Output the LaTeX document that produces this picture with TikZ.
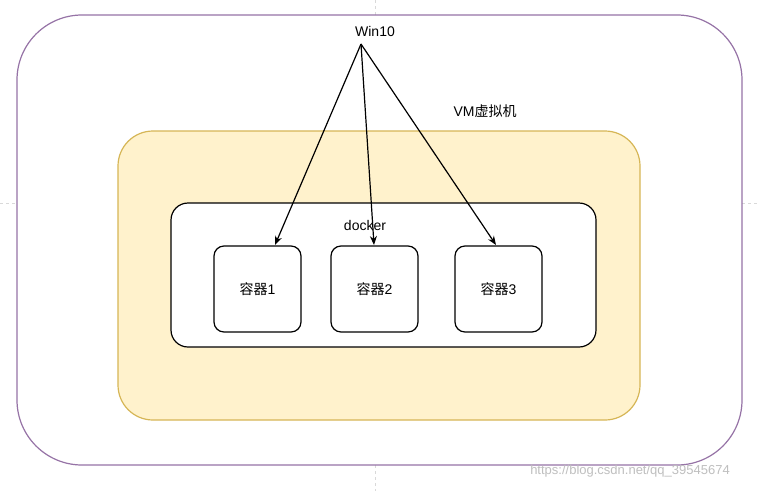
\documentclass[tikz,border=0pt]{standalone}
\usepackage{fontspec}
\usetikzlibrary{arrows.meta}
\setmainfont{Liberation Sans}
\newfontfamily\cjk{Noto Sans CJK SC}
\begin{document}
\begin{tikzpicture}[x=1pt,y=-1pt,
  box/.style={draw=black,line width=1.2pt,rounded corners=10pt,fill=white},
  arr/.style={-{Stealth[length=9pt,width=7pt]},line width=1.2pt},
  lbl/.style={font=\fontsize{14}{16}\selectfont}]
\useasboundingbox[fill=white] (0,0) rectangle (760,491);
\draw[gray!30,dashed] (0,203) -- (17,203) (742,203) -- (760,203) (375,0) -- (375,15) (375,465) -- (375,491);
\draw[draw={rgb,255:red,150;green,115;blue,166},line width=1.2pt,rounded corners=65pt] (17,15) rectangle (742,465);
\draw[draw={rgb,255:red,214;green,182;blue,86},fill={rgb,255:red,255;green,242;blue,204},line width=1.2pt,rounded corners=35pt] (118,131) rectangle (640,420);
\draw[box,rounded corners=17pt] (171,203) rectangle (596,347);
\node[box,minimum width=87pt,minimum height=86pt,lbl] (c1) at (257.5,289) {{\cjk 容器}1};
\node[box,minimum width=87pt,minimum height=86pt,lbl] (c2) at (374.5,289) {{\cjk 容器}2};
\node[box,minimum width=87pt,minimum height=86pt,lbl] (c3) at (498.5,289) {{\cjk 容器}3};
\node[lbl] (dk) at (365,225) {docker};
\node[lbl] (vm) at (485,111) {VM{\cjk 虚拟机}};
\node[lbl] (w) at (375,31) {Win10};
\coordinate (s) at (361,44);
\draw[arr] (s) -- (275,245);
\draw[arr] (s) -- (374,245);
\draw[arr] (s) -- (496,245);
\node[text=gray!50,font=\fontsize{13}{15}\selectfont] (wm) at (630,471) {https://blog.csdn.net/qq\_39545674};
\end{tikzpicture}
\end{document}
